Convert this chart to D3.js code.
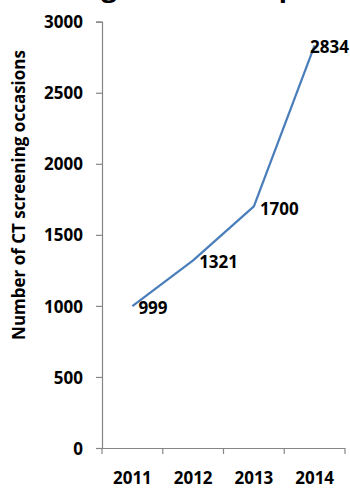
<!DOCTYPE html>
<html>
<head>
<meta charset="utf-8">
<script src="https://cdn.jsdelivr.net/npm/d3@7"></script>
<style>
  html, body { margin: 0; padding: 0; background: #fff; }
  svg { display: block; }
  text { font-family: "Open Sans", Lato, sans-serif; font-weight: bold; fill: #000; }
</style>
</head>
<body>
<script>
// Screening occasions per year
const years = ["2011", "2012", "2013", "2014"];
const occasions = [999, 1321, 1700, 2834];
const yTicks = [0, 500, 1000, 1500, 2000, 2500, 3000];
const titleText = "Screening occasions up to 2014";
const yTitle = "Number of CT screening occasions";

const W = 350, H = 488;
const plot = { left: 102, right: 345, top: 21.7, bottom: 448 };
const axisColor = "#868686";
const lineColor = "#4A7EBB";
const fontFamily = "'Open Sans', Lato, sans-serif";

const svg = d3.select("body").append("svg")
  .attr("width", W).attr("height", H);

const x = d3.scaleBand().domain(years).range([plot.left, plot.right]).padding(0);
const y = d3.scaleLinear().domain([0, 3000]).range([plot.bottom, plot.top]);

// Chart title, larger type, sitting mostly above the top edge
const title = svg.append("text")
  .attr("x", 0)
  .attr("y", -3)
  .style("font-size", "27px")
  .text(titleText);
{
  const gi = titleText.indexOf("g");
  const ext = title.node().getExtentOfChar(gi);
  title.attr("x", 109 - (ext.x + ext.width / 2));
}

// Y axis
const yAxis = svg.append("g")
  .attr("transform", `translate(${plot.left},0)`)
  .call(d3.axisLeft(y).tickValues(yTicks).tickSize(6).tickPadding(13).tickFormat(d3.format("d")));
yAxis.select(".domain").attr("stroke", axisColor).attr("stroke-width", 1.2);
yAxis.selectAll(".tick line").attr("stroke", axisColor).attr("stroke-width", 1.2);
yAxis.selectAll(".tick text")
  .style("font-size", "17px").style("font-family", fontFamily).style("font-weight", "bold")
  .attr("fill", "#000").attr("dy", "0.36em");

// X axis: category labels centred in each band, ticks on band edges
const xAxis = svg.append("g")
  .attr("transform", `translate(0,${plot.bottom})`)
  .call(d3.axisBottom(x).tickSize(0).tickPadding(24));
xAxis.select(".domain").attr("stroke", axisColor).attr("stroke-width", 1.2)
  .attr("d", `M${plot.left - 6},0.5H${plot.right}`);
xAxis.selectAll(".tick text")
  .style("font-size", "17px").style("font-family", fontFamily).style("font-weight", "bold")
  .attr("fill", "#000");
const edges = years.map(d => x(d)).concat([x.range()[1]]);
xAxis.selectAll("line.edge").data(edges).enter().append("line")
  .attr("class", "edge")
  .attr("x1", d => d).attr("x2", d => d)
  .attr("y1", 0).attr("y2", 6)
  .attr("stroke", axisColor).attr("stroke-width", 1.2);

// Y axis title
svg.append("text")
  .attr("transform", `translate(25,195) rotate(-90)`)
  .attr("text-anchor", "middle")
  .style("font-size", "17px")
  .text(yTitle);

// Series line
const pts = years.map((d, i) => ({ year: d, value: occasions[i] }));
const line = d3.line()
  .x(d => x(d.year) + x.bandwidth() / 2)
  .y(d => y(d.value));
svg.append("path")
  .datum(pts)
  .attr("d", line)
  .attr("fill", "none")
  .attr("stroke", lineColor)
  .attr("stroke-width", 2.25)
  .attr("stroke-linejoin", "round");

// Data labels to the right of each point, kept inside the chart
svg.selectAll("text.dlabel").data(pts).enter().append("text")
  .attr("class", "dlabel")
  .style("font-size", "17px")
  .attr("x", d => x(d.year) + x.bandwidth() / 2 + 6)
  .attr("y", d => y(d.value) + 2)
  .attr("dy", "0.36em")
  .text(d => d3.format("d")(d.value))
  .each(function () {
    const w = this.getComputedTextLength();
    const x0 = +this.getAttribute("x");
    if (x0 + w > W - 1) this.setAttribute("x", W - 1 - w);
  });
</script>
</body>
</html>
